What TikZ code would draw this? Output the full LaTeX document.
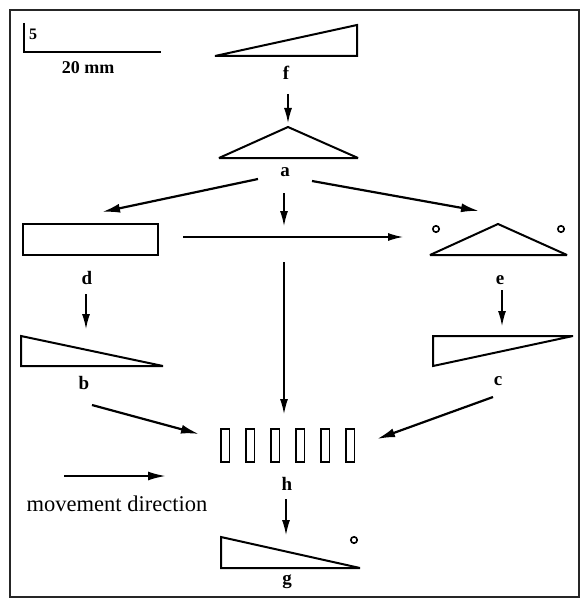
\documentclass[tikz,border=0pt]{standalone}
\usepackage{fontspec}
\setmainfont{Liberation Serif}
\usetikzlibrary{arrows.meta}

\tikzset{
  pieza/.style={line width=2pt, line join=miter, miter limit=4},
  etiq/.style={font=\fontsize{19}{19}\selectfont\bfseries, inner sep=0pt},
  flecha/.style={line width=2.2pt, -{Latex[length=18pt,width=9pt]}},
  flechita/.style={line width=1.3pt, -{Latex[length=15pt,width=8pt]}},
  hueco/.style={line width=1.6pt},
  ojo/.style={line width=1.6pt},
}

\begin{document}
\begin{tikzpicture}[x=1pt,y=-1pt]
  \useasboundingbox (0,0) rectangle (581,599);
  %# MARCO
  \draw[line width=1.6pt, black!85] (10,10) rectangle (579,597);

  %# ESCALA
  \draw[line width=1.5pt] (24,23) -- (24,52) -- (161,52);
  \node[etiq, font=\fontsize{16}{16}\selectfont\bfseries] (cinco) at (33,34) {5};
  \node[etiq, font=\fontsize{18}{18}\selectfont\bfseries] (veinte) at (88,68) {20 mm};

  %# PIEZA F
  \draw[pieza] (215,56) -- (357,56) -- (357,25) -- cycle;
  \node[etiq] (f) at (286,73) {f};
  %# PIEZA A
  \draw[pieza] (219,158) -- (288,127) -- (358,158) -- cycle;
  \node[etiq] (a) at (285,172) {a};
  \coordinate (fa) at (288,94);
  \coordinate (a1) at (288,123);
  \draw[flechita] (fa) -- (a1);

  %# PIEZA D
  \draw[pieza] (23,224) rectangle (158,255);
  \node[etiq] (d) at (87,278) {d};
  %# PIEZA E
  \draw[ojo] (436,229) circle (3.2) (561,229) circle (3.2);
  \draw[pieza] (430,255) -- (498,224) -- (567,255) -- cycle;
  \node[etiq] (e) at (500,280) {e};

  %# FLECHAS DESDE A
  \coordinate (ad0) at (258,179);
  \coordinate (ad1) at (102,212);
  \coordinate (ae0) at (312,181);
  \coordinate (ae1) at (479,211);
  \coordinate (am0) at (284,193);
  \coordinate (am1) at (284,226);
  \draw[flecha] (ad0) -- (ad1);
  \draw[flecha] (ae0) -- (ae1);
  \draw[flechita] (am0) -- (am1);
  \coordinate (de0) at (183,237);
  \coordinate (de1) at (403,237);
  \draw[flechita] (de0) -- (de1);
  \coordinate (ah0) at (284,262);
  \coordinate (ah1) at (284,414);
  \draw[flechita] (ah0) -- (ah1);

  %# PIEZA B
  \draw[pieza] (21,336) -- (21,366) -- (163,366) -- cycle;
  \node[etiq] (b) at (84,383) {b};
  \coordinate (db0) at (86,294);
  \coordinate (db1) at (86,329);
  \draw[flechita] (db0) -- (db1);
  %# PIEZA C
  \draw[pieza] (433,336) -- (573,336) -- (433,366) -- cycle;
  \node[etiq] (c) at (498,381) {c};
  \coordinate (ec0) at (502,290);
  \coordinate (ec1) at (502,326);
  \draw[flechita] (ec0) -- (ec1);

  %# PIEZAS H
  \foreach \i in {0,...,5}
    \draw[hueco] (221+25*\i,429) rectangle ++(8.5,33);
  \node[etiq] (h) at (287,484) {h};
  \coordinate (bh0) at (92,405);
  \coordinate (bh1) at (199,434);
  \coordinate (ch0) at (493,397);
  \coordinate (ch1) at (377,439);
  \draw[flecha] (bh0) -- (bh1);
  \draw[flecha] (ch0) -- (ch1);

  %# DIRECCION
  \coordinate (mv0) at (64,476);
  \coordinate (mv1) at (166,476);
  \draw[flecha] (mv0) -- (mv1);
  \node[inner sep=0pt, font=\fontsize{22.5}{22.5}\selectfont] (mov) at (117,504) {movement direction};

  %# PIEZA G
  \coordinate (hg0) at (286,499);
  \coordinate (hg1) at (286,535);
  \draw[flechita] (hg0) -- (hg1);
  \draw[pieza] (221,537) -- (221,568) -- (360,568) -- cycle;
  \draw[ojo] (354,540) circle (3.2);
  \node[etiq] (g) at (287,582) {g};
\end{tikzpicture}
\end{document}
